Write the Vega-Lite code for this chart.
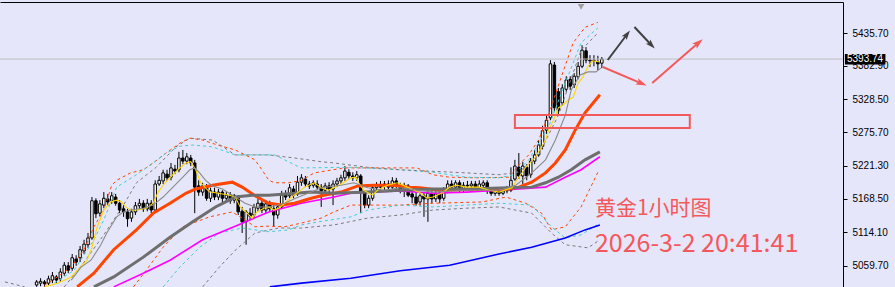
{
"$schema":"https://vega.github.io/schema/vega-lite/v6.json",
"width":843,"height":285,
"autosize":{"type":"none"},
"padding":{"left":0,"top":2,"right":52,"bottom":0},
"background":"#E6E6FA",
"config":{"view":{"stroke":null}},
"datasets":{
"one":[{}],
"candles":[
{"t":8,"o":5029,"h":5037,"l":5026,"c":5034},{"t":9,"o":5032,"h":5040,"l":5027,"c":5035},{"t":10,"o":5034,"h":5037,"l":5026,"c":5031},{"t":11,"o":5032,"h":5044,"l":5029,"c":5039},{"t":12,"o":5037,"h":5050,"l":5032,"c":5044},{"t":13,"o":5042,"h":5045,"l":5032,"c":5037},{"t":14,"o":5039,"h":5056,"l":5034,"c":5050},{"t":15,"o":5048,"h":5066,"l":5044,"c":5061},{"t":16,"o":5060,"h":5066,"l":5048,"c":5053},{"t":17,"o":5056,"h":5079,"l":5052,"c":5073},{"t":18,"o":5071,"h":5077,"l":5060,"c":5066},{"t":19,"o":5073,"h":5092,"l":5066,"c":5086},{"t":20,"o":5084,"h":5102,"l":5079,"c":5095},{"t":21,"o":5094,"h":5113,"l":5089,"c":5105},{"t":22,"o":5105,"h":5171,"l":5102,"c":5165},{"t":23,"o":5165,"h":5169,"l":5137,"c":5144},{"t":24,"o":5145,"h":5166,"l":5140,"c":5160},{"t":25,"o":5158,"h":5179,"l":5153,"c":5169},{"t":26,"o":5168,"h":5176,"l":5157,"c":5163},{"t":27,"o":5165,"h":5179,"l":5160,"c":5173},{"t":28,"o":5171,"h":5176,"l":5157,"c":5161},{"t":29,"o":5161,"h":5166,"l":5145,"c":5150},{"t":30,"o":5152,"h":5158,"l":5139,"c":5147},{"t":31,"o":5147,"h":5152,"l":5123,"c":5136},{"t":32,"o":5137,"h":5152,"l":5131,"c":5147},{"t":33,"o":5147,"h":5163,"l":5142,"c":5157},{"t":34,"o":5157,"h":5168,"l":5150,"c":5161},{"t":35,"o":5161,"h":5166,"l":5147,"c":5152},{"t":36,"o":5152,"h":5168,"l":5148,"c":5161},{"t":37,"o":5161,"h":5166,"l":5145,"c":5150},{"t":38,"o":5150,"h":5198,"l":5147,"c":5192},{"t":39,"o":5192,"h":5205,"l":5189,"c":5198},{"t":40,"o":5197,"h":5215,"l":5192,"c":5210},{"t":41,"o":5208,"h":5215,"l":5197,"c":5202},{"t":42,"o":5203,"h":5226,"l":5198,"c":5218},{"t":43,"o":5216,"h":5223,"l":5208,"c":5213},{"t":44,"o":5215,"h":5244,"l":5211,"c":5234},{"t":45,"o":5234,"h":5247,"l":5224,"c":5229},{"t":46,"o":5229,"h":5242,"l":5224,"c":5236},{"t":47,"o":5234,"h":5239,"l":5221,"c":5226},{"t":48,"o":5226,"h":5231,"l":5145,"c":5187},{"t":49,"o":5189,"h":5198,"l":5173,"c":5179},{"t":50,"o":5179,"h":5194,"l":5173,"c":5189},{"t":51,"o":5187,"h":5192,"l":5165,"c":5169},{"t":52,"o":5169,"h":5186,"l":5163,"c":5181},{"t":53,"o":5179,"h":5186,"l":5166,"c":5171},{"t":54,"o":5171,"h":5184,"l":5166,"c":5179},{"t":55,"o":5179,"h":5182,"l":5163,"c":5169},{"t":56,"o":5169,"h":5179,"l":5165,"c":5174},{"t":57,"o":5174,"h":5179,"l":5160,"c":5165},{"t":58,"o":5166,"h":5176,"l":5161,"c":5173},{"t":59,"o":5171,"h":5174,"l":5142,"c":5147},{"t":60,"o":5148,"h":5155,"l":5113,"c":5131},{"t":61,"o":5131,"h":5150,"l":5094,"c":5147},{"t":62,"o":5145,"h":5153,"l":5134,"c":5140},{"t":63,"o":5142,"h":5160,"l":5137,"c":5155},{"t":64,"o":5153,"h":5168,"l":5148,"c":5161},{"t":65,"o":5161,"h":5166,"l":5145,"c":5150},{"t":66,"o":5150,"h":5166,"l":5145,"c":5160},{"t":67,"o":5160,"h":5165,"l":5147,"c":5152},{"t":68,"o":5152,"h":5158,"l":5123,"c":5142},{"t":69,"o":5142,"h":5160,"l":5136,"c":5155},{"t":70,"o":5155,"h":5181,"l":5152,"c":5174},{"t":71,"o":5174,"h":5182,"l":5166,"c":5171},{"t":72,"o":5173,"h":5192,"l":5169,"c":5186},{"t":73,"o":5184,"h":5189,"l":5169,"c":5174},{"t":74,"o":5176,"h":5205,"l":5173,"c":5195},{"t":75,"o":5195,"h":5208,"l":5189,"c":5202},{"t":76,"o":5200,"h":5205,"l":5187,"c":5192},{"t":77,"o":5192,"h":5197,"l":5184,"c":5189},{"t":78,"o":5190,"h":5198,"l":5186,"c":5194},{"t":79,"o":5192,"h":5198,"l":5182,"c":5187},{"t":80,"o":5187,"h":5192,"l":5155,"c":5181},{"t":81,"o":5182,"h":5194,"l":5176,"c":5189},{"t":82,"o":5189,"h":5195,"l":5179,"c":5184},{"t":83,"o":5184,"h":5198,"l":5158,"c":5192},{"t":84,"o":5192,"h":5202,"l":5187,"c":5197},{"t":85,"o":5197,"h":5207,"l":5192,"c":5202},{"t":86,"o":5202,"h":5221,"l":5197,"c":5213},{"t":87,"o":5211,"h":5216,"l":5200,"c":5205},{"t":88,"o":5205,"h":5211,"l":5197,"c":5202},{"t":89,"o":5202,"h":5213,"l":5197,"c":5207},{"t":90,"o":5205,"h":5208,"l":5145,"c":5178},{"t":91,"o":5178,"h":5182,"l":5153,"c":5158},{"t":92,"o":5158,"h":5174,"l":5153,"c":5169},{"t":93,"o":5169,"h":5190,"l":5165,"c":5186},{"t":94,"o":5186,"h":5195,"l":5181,"c":5190},{"t":95,"o":5190,"h":5197,"l":5182,"c":5187},{"t":96,"o":5189,"h":5197,"l":5182,"c":5192},{"t":97,"o":5192,"h":5198,"l":5182,"c":5187},{"t":98,"o":5187,"h":5203,"l":5184,"c":5197},{"t":99,"o":5197,"h":5202,"l":5184,"c":5189},{"t":100,"o":5189,"h":5194,"l":5177,"c":5184},{"t":101,"o":5184,"h":5194,"l":5171,"c":5189},{"t":102,"o":5189,"h":5192,"l":5171,"c":5174},{"t":103,"o":5176,"h":5182,"l":5161,"c":5171},{"t":104,"o":5171,"h":5179,"l":5157,"c":5161},{"t":105,"o":5163,"h":5177,"l":5157,"c":5173},{"t":106,"o":5173,"h":5179,"l":5139,"c":5168},{"t":107,"o":5168,"h":5182,"l":5131,"c":5177},{"t":108,"o":5177,"h":5182,"l":5161,"c":5168},{"t":109,"o":5168,"h":5181,"l":5163,"c":5176},{"t":110,"o":5176,"h":5181,"l":5161,"c":5168},{"t":111,"o":5169,"h":5187,"l":5165,"c":5182},{"t":112,"o":5182,"h":5198,"l":5177,"c":5192},{"t":113,"o":5192,"h":5198,"l":5182,"c":5187},{"t":114,"o":5187,"h":5198,"l":5182,"c":5194},{"t":115,"o":5194,"h":5198,"l":5179,"c":5184},{"t":116,"o":5184,"h":5195,"l":5179,"c":5190},{"t":117,"o":5190,"h":5197,"l":5182,"c":5189},{"t":118,"o":5189,"h":5197,"l":5184,"c":5192},{"t":119,"o":5192,"h":5197,"l":5181,"c":5184},{"t":120,"o":5184,"h":5198,"l":5181,"c":5192},{"t":121,"o":5190,"h":5198,"l":5186,"c":5194},{"t":122,"o":5194,"h":5198,"l":5176,"c":5181},{"t":123,"o":5181,"h":5186,"l":5173,"c":5177},{"t":124,"o":5177,"h":5184,"l":5173,"c":5181},{"t":125,"o":5181,"h":5186,"l":5173,"c":5177},{"t":126,"o":5177,"h":5184,"l":5174,"c":5181},{"t":127,"o":5181,"h":5189,"l":5177,"c":5186},{"t":128,"o":5182,"h":5219,"l":5179,"c":5198},{"t":129,"o":5200,"h":5231,"l":5197,"c":5221},{"t":130,"o":5219,"h":5242,"l":5200,"c":5205},{"t":131,"o":5205,"h":5228,"l":5192,"c":5221},{"t":132,"o":5219,"h":5224,"l":5198,"c":5205},{"t":133,"o":5207,"h":5234,"l":5202,"c":5229},{"t":134,"o":5229,"h":5247,"l":5224,"c":5239},{"t":135,"o":5239,"h":5263,"l":5236,"c":5255},{"t":136,"o":5253,"h":5286,"l":5248,"c":5278},{"t":137,"o":5279,"h":5302,"l":5273,"c":5295},{"t":138,"o":5299,"h":5392,"l":5295,"c":5386},{"t":139,"o":5384,"h":5389,"l":5308,"c":5315},{"t":140,"o":5341,"h":5347,"l":5302,"c":5311},{"t":141,"o":5323,"h":5353,"l":5318,"c":5347},{"t":142,"o":5345,"h":5366,"l":5341,"c":5360},{"t":143,"o":5361,"h":5366,"l":5344,"c":5350},{"t":144,"o":5352,"h":5371,"l":5347,"c":5366},{"t":145,"o":5365,"h":5389,"l":5361,"c":5382},{"t":146,"o":5382,"h":5416,"l":5379,"c":5408},{"t":147,"o":5407,"h":5413,"l":5387,"c":5392},{"t":148,"o":5392,"h":5400,"l":5381,"c":5391},{"t":149,"o":5391,"h":5400,"l":5382,"c":5392},{"t":150,"o":5389,"h":5399,"l":5376,"c":5386},{"t":151,"o":5387,"h":5397,"l":5379,"c":5393.74}
],
"lines":[
{"s":"yel","t":10,"p":5026},{"s":"yel","t":13.25,"p":5032},{"s":"yel","t":16.75,"p":5042},{"s":"yel","t":20.75,"p":5069},{"s":"yel","t":22,"p":5090},{"s":"yel","t":23.25,"p":5121},{"s":"yel","t":25,"p":5150},{"s":"yel","t":26.75,"p":5163},{"s":"yel","t":28.25,"p":5166},{"s":"yel","t":29.5,"p":5163},{"s":"yel","t":30.5,"p":5155},{"s":"yel","t":31.75,"p":5150},{"s":"yel","t":33.25,"p":5150},{"s":"yel","t":35.75,"p":5153},{"s":"yel","t":37.5,"p":5161},{"s":"yel","t":38.75,"p":5179},{"s":"yel","t":40.5,"p":5194},{"s":"yel","t":42.5,"p":5207},{"s":"yel","t":44.25,"p":5218},{"s":"yel","t":45.75,"p":5226},{"s":"yel","t":47,"p":5228},{"s":"yel","t":48.25,"p":5215},{"s":"yel","t":49.5,"p":5194},{"s":"yel","t":51.75,"p":5179},{"s":"yel","t":53.25,"p":5178},{"s":"yel","t":56.75,"p":5174},{"s":"yel","t":58.25,"p":5171},{"s":"yel","t":59.5,"p":5155},{"s":"yel","t":61.25,"p":5145},{"s":"yel","t":62.5,"p":5137},{"s":"yel","t":63.75,"p":5147},{"s":"yel","t":65.5,"p":5153},{"s":"yel","t":66.75,"p":5155},{"s":"yel","t":68,"p":5150},{"s":"yel","t":69.25,"p":5153},{"s":"yel","t":70.75,"p":5161},{"s":"yel","t":72.5,"p":5171},{"s":"yel","t":74.25,"p":5179},{"s":"yel","t":75.75,"p":5187},{"s":"yel","t":78.25,"p":5194},{"s":"yel","t":80,"p":5186},{"s":"yel","t":81.75,"p":5182},{"s":"yel","t":83.25,"p":5186},{"s":"yel","t":85.75,"p":5195},{"s":"yel","t":87.5,"p":5202},{"s":"yel","t":88.75,"p":5203},{"s":"yel","t":89.5,"p":5194},{"s":"yel","t":90.75,"p":5182},{"s":"yel","t":93,"p":5174},{"s":"yel","t":94.25,"p":5182},{"s":"yel","t":96.75,"p":5190},{"s":"yel","t":99.25,"p":5194},{"s":"yel","t":101.75,"p":5187},{"s":"yel","t":105,"p":5178},{"s":"yel","t":106.75,"p":5169},{"s":"yel","t":108.25,"p":5171},{"s":"yel","t":110.75,"p":5178},{"s":"yel","t":112.5,"p":5187},{"s":"yel","t":114.25,"p":5190},{"s":"yel","t":116.75,"p":5187},{"s":"yel","t":120,"p":5187},{"s":"yel","t":122.5,"p":5182},{"s":"yel","t":125,"p":5179},{"s":"yel","t":128.25,"p":5186},{"s":"yel","t":130,"p":5203},{"s":"yel","t":131.75,"p":5219},{"s":"yel","t":134.25,"p":5236},{"s":"yel","t":136.75,"p":5263},{"s":"yel","t":137.5,"p":5279},{"s":"yel","t":138.75,"p":5295},{"s":"yel","t":140,"p":5315},{"s":"yel","t":141.25,"p":5320},{"s":"yel","t":142.5,"p":5328},{"s":"yel","t":143.75,"p":5332},{"s":"yel","t":145,"p":5355},{"s":"yel","t":146.25,"p":5365},{"s":"yel","t":147.5,"p":5382},{"s":"yel","t":148.75,"p":5391},{"s":"yel","t":150.5,"p":5389},
{"s":"gth","t":16.75,"p":5037},{"s":"gth","t":19.25,"p":5058},{"s":"gth","t":21.75,"p":5069},{"s":"gth","t":24.25,"p":5094},{"s":"gth","t":25.75,"p":5113},{"s":"gth","t":27.5,"p":5131},{"s":"gth","t":28.25,"p":5139},{"s":"gth","t":30,"p":5147},{"s":"gth","t":31.75,"p":5150},{"s":"gth","t":35,"p":5153},{"s":"gth","t":37.5,"p":5158},{"s":"gth","t":40,"p":5171},{"s":"gth","t":42.5,"p":5187},{"s":"gth","t":45,"p":5203},{"s":"gth","t":46.75,"p":5215},{"s":"gth","t":48,"p":5218},{"s":"gth","t":49.25,"p":5210},{"s":"gth","t":50.75,"p":5198},{"s":"gth","t":52.5,"p":5189},{"s":"gth","t":55,"p":5184},{"s":"gth","t":58.25,"p":5171},{"s":"gth","t":60.75,"p":5161},{"s":"gth","t":63.25,"p":5155},{"s":"gth","t":66.75,"p":5155},{"s":"gth","t":70.75,"p":5161},{"s":"gth","t":74.25,"p":5171},{"s":"gth","t":77.5,"p":5179},{"s":"gth","t":80,"p":5186},{"s":"gth","t":85,"p":5190},{"s":"gth","t":88.25,"p":5194},{"s":"gth","t":91.75,"p":5186},{"s":"gth","t":95.75,"p":5182},{"s":"gth","t":100,"p":5186},{"s":"gth","t":108.25,"p":5179},{"s":"gth","t":116.75,"p":5182},{"s":"gth","t":125,"p":5182},{"s":"gth","t":129.25,"p":5190},{"s":"gth","t":133.25,"p":5210},{"s":"gth","t":136.75,"p":5231},{"s":"gth","t":139.25,"p":5263},{"s":"gth","t":141.75,"p":5303},{"s":"gth","t":143.25,"p":5344},{"s":"gth","t":145.5,"p":5368},{"s":"gth","t":147.5,"p":5373},{"s":"gth","t":149.5,"p":5373},{"s":"gth","t":150.75,"p":5379},
{"s":"org","t":18.25,"p":5026},{"s":"org","t":22.5,"p":5048},{"s":"org","t":27.5,"p":5086},{"s":"org","t":33.25,"p":5118},{"s":"org","t":37.5,"p":5145},{"s":"org","t":41.75,"p":5161},{"s":"org","t":45.75,"p":5177},{"s":"org","t":48.25,"p":5184},{"s":"org","t":52.5,"p":5190},{"s":"org","t":57.5,"p":5195},{"s":"org","t":60,"p":5187},{"s":"org","t":63.25,"p":5173},{"s":"org","t":66.75,"p":5161},{"s":"org","t":70,"p":5158},{"s":"org","t":73.25,"p":5161},{"s":"org","t":77.5,"p":5169},{"s":"org","t":80,"p":5173},{"s":"org","t":85,"p":5179},{"s":"org","t":89.25,"p":5189},{"s":"org","t":93.25,"p":5190},{"s":"org","t":98.25,"p":5190},{"s":"org","t":102.5,"p":5187},{"s":"org","t":105,"p":5186},{"s":"org","t":110,"p":5182},{"s":"org","t":121.75,"p":5184},{"s":"org","t":127.5,"p":5184},{"s":"org","t":130,"p":5187},{"s":"org","t":133.25,"p":5195},{"s":"org","t":136.75,"p":5210},{"s":"org","t":139.25,"p":5226},{"s":"org","t":141.75,"p":5247},{"s":"org","t":144.25,"p":5279},{"s":"org","t":146.75,"p":5307},{"s":"org","t":150.5,"p":5336},
{"s":"gtk","t":22.5,"p":5026},{"s":"gtk","t":27.5,"p":5042},{"s":"gtk","t":35,"p":5074},{"s":"gtk","t":41.75,"p":5106},{"s":"gtk","t":47.5,"p":5131},{"s":"gtk","t":53.25,"p":5155},{"s":"gtk","t":58.25,"p":5171},{"s":"gtk","t":62.5,"p":5174},{"s":"gtk","t":66.75,"p":5174},{"s":"gtk","t":77.5,"p":5179},{"s":"gtk","t":83.25,"p":5177},{"s":"gtk","t":91.75,"p":5179},{"s":"gtk","t":100,"p":5182},{"s":"gtk","t":108.25,"p":5184},{"s":"gtk","t":116.75,"p":5184},{"s":"gtk","t":127.5,"p":5186},{"s":"gtk","t":133.25,"p":5187},{"s":"gtk","t":136.75,"p":5194},{"s":"gtk","t":140,"p":5203},{"s":"gtk","t":143.25,"p":5215},{"s":"gtk","t":146.75,"p":5231},{"s":"gtk","t":150.5,"p":5244},
{"s":"mag","t":27.5,"p":5026},{"s":"mag","t":35,"p":5048},{"s":"mag","t":41.75,"p":5069},{"s":"mag","t":50,"p":5102},{"s":"mag","t":58.25,"p":5124},{"s":"mag","t":66.75,"p":5147},{"s":"mag","t":75,"p":5161},{"s":"mag","t":83.25,"p":5171},{"s":"mag","t":87.5,"p":5177},{"s":"mag","t":91.75,"p":5179},{"s":"mag","t":100,"p":5181},{"s":"mag","t":108.25,"p":5177},{"s":"mag","t":116.75,"p":5179},{"s":"mag","t":125,"p":5182},{"s":"mag","t":130,"p":5184},{"s":"mag","t":136.75,"p":5187},{"s":"mag","t":141.75,"p":5203},{"s":"mag","t":145.75,"p":5215},{"s":"mag","t":150.5,"p":5236},
{"s":"blu","t":67,"p":5026},{"s":"blu","t":75,"p":5032},{"s":"blu","t":87.5,"p":5040},{"s":"blu","t":100,"p":5052},{"s":"blu","t":112.5,"p":5061},{"s":"blu","t":125,"p":5079},{"s":"blu","t":133.25,"p":5090},{"s":"blu","t":141.75,"p":5105},{"s":"blu","t":146.75,"p":5118},{"s":"blu","t":150.5,"p":5126},
{"s":"od_u","t":10,"p":5029},{"s":"od_u","t":13.25,"p":5042},{"s":"od_u","t":16.75,"p":5058},{"s":"od_u","t":20,"p":5086},{"s":"od_u","t":22.5,"p":5123},{"s":"od_u","t":25,"p":5150},{"s":"od_u","t":27,"p":5190},{"s":"od_u","t":28.25,"p":5198},{"s":"od_u","t":31.75,"p":5210},{"s":"od_u","t":35,"p":5215},{"s":"od_u","t":37.5,"p":5226},{"s":"od_u","t":40.75,"p":5242},{"s":"od_u","t":44.25,"p":5258},{"s":"od_u","t":46.75,"p":5266},{"s":"od_u","t":50,"p":5263},{"s":"od_u","t":53.75,"p":5255},{"s":"od_u","t":58.25,"p":5247},{"s":"od_u","t":63.25,"p":5231},{"s":"od_u","t":65,"p":5215},{"s":"od_u","t":66.75,"p":5198},{"s":"od_u","t":68.25,"p":5194},{"s":"od_u","t":71.75,"p":5194},{"s":"od_u","t":75,"p":5198},{"s":"od_u","t":78.25,"p":5210},{"s":"od_u","t":85.75,"p":5218},{"s":"od_u","t":98.25,"p":5218},{"s":"od_u","t":104.25,"p":5218},{"s":"od_u","t":108.25,"p":5207},{"s":"od_u","t":112.5,"p":5203},{"s":"od_u","t":119.25,"p":5202},{"s":"od_u","t":127.5,"p":5203},{"s":"od_u","t":130,"p":5223},{"s":"od_u","t":132.5,"p":5239},{"s":"od_u","t":135,"p":5263},{"s":"od_u","t":137.5,"p":5303},{"s":"od_u","t":140.75,"p":5365},{"s":"od_u","t":143.75,"p":5420},{"s":"od_u","t":146.75,"p":5445},{"s":"od_u","t":150,"p":5453},
{"s":"od_l","t":32.5,"p":5026},{"s":"od_l","t":35.75,"p":5053},{"s":"od_l","t":40,"p":5090},{"s":"od_l","t":45,"p":5123},{"s":"od_l","t":51.75,"p":5139},{"s":"od_l","t":57.5,"p":5147},{"s":"od_l","t":60.75,"p":5134},{"s":"od_l","t":63.25,"p":5123},{"s":"od_l","t":66.75,"p":5124},{"s":"od_l","t":70.75,"p":5123},{"s":"od_l","t":75,"p":5129},{"s":"od_l","t":80,"p":5137},{"s":"od_l","t":83.25,"p":5147},{"s":"od_l","t":87.5,"p":5158},{"s":"od_l","t":100,"p":5158},{"s":"od_l","t":108.25,"p":5161},{"s":"od_l","t":120.75,"p":5163},{"s":"od_l","t":126.75,"p":5171},{"s":"od_l","t":131.75,"p":5161},{"s":"od_l","t":135.75,"p":5145},{"s":"od_l","t":138.25,"p":5118},{"s":"od_l","t":141.75,"p":5123},{"s":"od_l","t":145.75,"p":5155},{"s":"od_l","t":150,"p":5211},
{"s":"cd_u","t":12.5,"p":5032},{"s":"cd_u","t":17.5,"p":5053},{"s":"cd_u","t":22.5,"p":5102},{"s":"cd_u","t":25,"p":5134},{"s":"cd_u","t":28.25,"p":5187},{"s":"cd_u","t":33.25,"p":5207},{"s":"cd_u","t":37.5,"p":5226},{"s":"cd_u","t":40.75,"p":5242},{"s":"cd_u","t":44.25,"p":5253},{"s":"cd_u","t":47.5,"p":5255},{"s":"cd_u","t":52.5,"p":5252},{"s":"cd_u","t":58.25,"p":5239},{"s":"cd_u","t":68.25,"p":5239},{"s":"cd_u","t":73.25,"p":5223},{"s":"cd_u","t":75,"p":5218},{"s":"cd_u","t":87.5,"p":5219},{"s":"cd_u","t":100,"p":5215},{"s":"cd_u","t":108.25,"p":5211},{"s":"cd_u","t":116.75,"p":5203},{"s":"cd_u","t":125,"p":5202},{"s":"cd_u","t":128.75,"p":5207},{"s":"cd_u","t":132.5,"p":5231},{"s":"cd_u","t":137.5,"p":5284},{"s":"cd_u","t":141.75,"p":5355},{"s":"cd_u","t":145.75,"p":5420},{"s":"cd_u","t":150,"p":5444},
{"s":"cd_l","t":40,"p":5026},{"s":"cd_l","t":44.25,"p":5058},{"s":"cd_l","t":49.25,"p":5090},{"s":"cd_l","t":54.25,"p":5113},{"s":"cd_l","t":60,"p":5121},{"s":"cd_l","t":66.75,"p":5115},{"s":"cd_l","t":71.75,"p":5118},{"s":"cd_l","t":75,"p":5126},{"s":"cd_l","t":79.25,"p":5131},{"s":"cd_l","t":87.5,"p":5139},{"s":"cd_l","t":91.75,"p":5150},{"s":"cd_l","t":100,"p":5158},{"s":"cd_l","t":108.25,"p":5155},{"s":"cd_l","t":116.75,"p":5158},{"s":"cd_l","t":125,"p":5161},{"s":"cd_l","t":133.25,"p":5158},{"s":"cd_l","t":138.25,"p":5123},{"s":"cd_l","t":141.75,"p":5105},{"s":"cd_l","t":145.75,"p":5110},{"s":"cd_l","t":150.5,"p":5129},
{"s":"gd_u","t":15,"p":5026},{"s":"gd_u","t":20,"p":5066},{"s":"gd_u","t":25,"p":5110},{"s":"gd_u","t":30,"p":5158},{"s":"gd_u","t":33.25,"p":5194},{"s":"gd_u","t":38.25,"p":5219},{"s":"gd_u","t":43.25,"p":5252},{"s":"gd_u","t":46.75,"p":5266},{"s":"gd_u","t":52.5,"p":5263},{"s":"gd_u","t":58.25,"p":5239},{"s":"gd_u","t":66.75,"p":5239},{"s":"gd_u","t":73.25,"p":5234},{"s":"gd_u","t":80,"p":5228},{"s":"gd_u","t":83.25,"p":5226},{"s":"gd_u","t":91.75,"p":5219},{"s":"gd_u","t":100,"p":5215},{"s":"gd_u","t":116.75,"p":5210},{"s":"gd_u","t":125,"p":5207},{"s":"gd_u","t":130,"p":5211},{"s":"gd_u","t":135,"p":5239},{"s":"gd_u","t":140,"p":5303},{"s":"gd_u","t":145.75,"p":5408},{"s":"gd_u","t":150,"p":5436},
{"s":"gd_l","t":50,"p":5026},{"s":"gd_l","t":54.25,"p":5058},{"s":"gd_l","t":58.25,"p":5085},{"s":"gd_l","t":63.25,"p":5113},{"s":"gd_l","t":69.25,"p":5121},{"s":"gd_l","t":75,"p":5121},{"s":"gd_l","t":83.25,"p":5126},{"s":"gd_l","t":91.75,"p":5137},{"s":"gd_l","t":100,"p":5142},{"s":"gd_l","t":108.25,"p":5150},{"s":"gd_l","t":116.75,"p":5153},{"s":"gd_l","t":125,"p":5155},{"s":"gd_l","t":133.25,"p":5145},{"s":"gd_l","t":138.25,"p":5113},{"s":"gd_l","t":141.75,"p":5094},{"s":"gd_l","t":147.5,"p":5089},{"s":"gd_l","t":150.5,"p":5102},
{"s":"gd_x","t":0,"p":5034},{"s":"gd_x","t":5,"p":5026}
],
"arrows":[
{"a":"A","t":152.5,"p":5392.2},{"a":"A","t":157.25,"p":5432.5},
{"a":"B","t":159.25,"p":5445.4},{"a":"B","t":163.4,"p":5417.3},
{"a":"C","t":151.25,"p":5380.9},{"a":"C","t":160.85,"p":5354.9},
{"a":"D","t":163.75,"p":5355.0},{"a":"D","t":175.3,"p":5419.1}
]
},
"layer":[
{"data":{"name":"candles"},"mark":{"type":"rule","color":"#000000","strokeWidth":1},
 "encoding":{
  "x":{"field":"t","type":"quantitative","title":null,"scale":{"domain":[0,210.75],"nice":false,"zero":false},
       "axis":{"orient":"top","labels":false,"ticks":false,"grid":false,"title":null,"domain":true,"domainColor":"#000000","domainWidth":1}},
  "y":{"field":"l","type":"quantitative","title":null,"scale":{"domain":[5025.8,5485.8],"nice":false,"zero":false},
       "axis":{"orient":"right","values":[5435.7,5382.9,5328.5,5275.7,5221.3,5168.5,5114.1,5059.7],"format":".2f","title":null,"grid":false,"domain":true,"ticks":true,"labels":true,"domainColor":"#000000","domainWidth":1,"tickColor":"#000000","tickSize":4,"labelFont":"Liberation Sans","labelFontSize":10,"labelColor":"#000000","labelPadding":5,"labelAlign":"left","labelBaseline":"middle"}},
  "y2":{"field":"h"}}},
{"data":{"name":"candles"},"mark":{"type":"bar","width":2.5,"stroke":"#000000","strokeWidth":1},
 "encoding":{
  "x":{"field":"t","type":"quantitative","title":null},
  "y":{"field":"o","type":"quantitative","title":null},
  "y2":{"field":"c"},
  "fill":{"condition":{"test":"datum.c >= datum.o","value":"#FFFFFF"},"value":"#000000"}}},
{"data":{"name":"lines"},"transform":[{"filter":{"field":"s","oneOf":["od_u","od_l","cd_u","cd_l","gd_u","gd_l","gd_x"]}}],
 "mark":{"type":"line","strokeWidth":1,"strokeDash":[3,3]},
 "encoding":{
  "x":{"field":"t","type":"quantitative","title":null},
  "y":{"field":"p","type":"quantitative","title":null},
  "detail":{"field":"s"},
  "color":{"field":"s","type":"nominal","legend":null,"scale":{"domain":["yel","gth","org","gtk","mag","blu","od_u","od_l","cd_u","cd_l","gd_u","gd_l","gd_x"],"range":["#FFD700","#8A8A8A","#FF4500","#6E6E6E","#FF00FF","#0000FF","#FF4500","#FF4500","#40D0D0","#40D0D0","#7A7A7A","#7A7A7A","#7A7A7A"]}}}},
{"data":{"name":"lines"},"transform":[{"filter":{"field":"s","oneOf":["blu","mag"]}}],
 "mark":{"type":"line","strokeWidth":1.6},
 "encoding":{
  "x":{"field":"t","type":"quantitative","title":null},
  "y":{"field":"p","type":"quantitative","title":null},
  "detail":{"field":"s"},
  "color":{"field":"s","type":"nominal","legend":null}}},
{"data":{"name":"lines"},"transform":[{"filter":{"field":"s","oneOf":["gtk","org"]}}],
 "mark":{"type":"line","strokeWidth":3},
 "encoding":{
  "x":{"field":"t","type":"quantitative","title":null},
  "y":{"field":"p","type":"quantitative","title":null},
  "detail":{"field":"s"},
  "color":{"field":"s","type":"nominal","legend":null}}},
{"data":{"name":"lines"},"transform":[{"filter":{"field":"s","oneOf":["gth","yel"]}}],
 "mark":{"type":"line","strokeWidth":1.1},
 "encoding":{
  "x":{"field":"t","type":"quantitative","title":null},
  "y":{"field":"p","type":"quantitative","title":null},
  "detail":{"field":"s"},
  "color":{"field":"s","type":"nominal","legend":null}}},
{"data":{"name":"one"},"mark":{"type":"rule","color":"#C0C0C0","strokeWidth":1},
 "encoding":{"y":{"datum":5393.74,"type":"quantitative","title":null}}},
{"data":{"name":"one"},"mark":{"type":"rect","fill":"#000000"},
 "encoding":{
  "x":{"datum":212.5,"type":"quantitative","title":null},
  "x2":{"datum":222.75},
  "y":{"datum":5402,"type":"quantitative","title":null},
  "y2":{"datum":5385}}},
{"data":{"name":"one"},"mark":{"type":"text","color":"#FFFFFF","font":"Liberation Sans","fontSize":10,"align":"center","baseline":"middle"},
 "encoding":{
  "x":{"datum":217.6,"type":"quantitative","title":null},
  "y":{"datum":5393.74,"type":"quantitative","title":null},
  "text":{"value":"5393.74"}}},
{"data":{"name":"one"},"mark":{"type":"point","shape":"triangle-down","filled":true,"size":45,"color":"#A0A0A0","opacity":1},
 "encoding":{
  "x":{"datum":145.75,"type":"quantitative","title":null},
  "y":{"datum":5478,"type":"quantitative","title":null}}},
{"data":{"name":"one"},"mark":{"type":"rect","fill":"#E6E6FA","fillOpacity":0,"stroke":"#F25A5A","strokeWidth":2},
 "encoding":{
  "x":{"datum":129,"type":"quantitative","title":null},
  "x2":{"datum":173.25},
  "y":{"datum":5303.4,"type":"quantitative","title":null},
  "y2":{"datum":5282.4}}},
{"data":{"name":"arrows"},"transform":[{"filter":{"field":"a","oneOf":["A","B"]}}],
 "mark":{"type":"line","color":"#404040","strokeWidth":2},
 "encoding":{
  "x":{"field":"t","type":"quantitative","title":null},
  "y":{"field":"p","type":"quantitative","title":null},
  "detail":{"field":"a"}}},
{"data":{"name":"arrows"},"transform":[{"filter":{"field":"a","oneOf":["C","D"]}}],
 "mark":{"type":"line","color":"#F25A5A","strokeWidth":2},
 "encoding":{
  "x":{"field":"t","type":"quantitative","title":null},
  "y":{"field":"p","type":"quantitative","title":null},
  "detail":{"field":"a"}}},
{"data":{"name":"one"},"mark":{"type":"point","shape":"M0,-1L0.55,0.7L0,0.35L-0.55,0.7Z","filled":true,"size":130,"color":"#404040","opacity":1,"angle":37},
 "encoding":{"x":{"datum":157.25,"type":"quantitative","title":null},"y":{"datum":5432.5,"type":"quantitative","title":null}}},
{"data":{"name":"one"},"mark":{"type":"point","shape":"M0,-1L0.55,0.7L0,0.35L-0.55,0.7Z","filled":true,"size":130,"color":"#404040","opacity":1,"angle":136},
 "encoding":{"x":{"datum":163.4,"type":"quantitative","title":null},"y":{"datum":5417.3,"type":"quantitative","title":null}}},
{"data":{"name":"one"},"mark":{"type":"point","shape":"M0,-1L0.55,0.7L0,0.35L-0.55,0.7Z","filled":true,"size":160,"color":"#F25A5A","opacity":1,"angle":113},
 "encoding":{"x":{"datum":160.85,"type":"quantitative","title":null},"y":{"datum":5354.9,"type":"quantitative","title":null}}},
{"data":{"name":"one"},"mark":{"type":"point","shape":"M0,-1L0.55,0.7L0,0.35L-0.55,0.7Z","filled":true,"size":160,"color":"#F25A5A","opacity":1,"angle":49},
 "encoding":{"x":{"datum":175.3,"type":"quantitative","title":null},"y":{"datum":5419.1,"type":"quantitative","title":null}}},
{"data":{"name":"one"},"mark":{"type":"text","color":"#F4585C","font":"Noto Sans CJK SC","fontSize":21,"align":"left","baseline":"alphabetic"},
 "encoding":{"x":{"datum":149.25,"type":"quantitative","title":null},"y":{"datum":5142.0,"type":"quantitative","title":null},"text":{"value":"黄金1小时图"}}},
{"data":{"name":"one"},"mark":{"type":"text","color":"#F4585C","font":"Noto Sans CJK SC","fontSize":25,"align":"left","baseline":"alphabetic"},
 "encoding":{"x":{"datum":149.25,"type":"quantitative","title":null},"y":{"datum":5082.3,"type":"quantitative","title":null},"text":{"value":"2026-3-2 20:41:41"}}}
]
}
